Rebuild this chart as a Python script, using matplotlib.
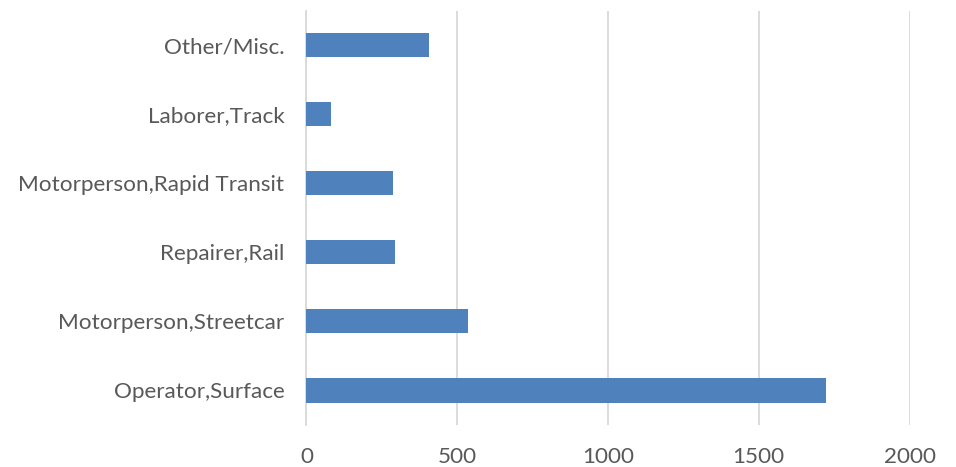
import matplotlib
matplotlib.use('Agg')
import matplotlib.pyplot as plt

# Data
categories = ['Operator,Surface', 'Motorperson,Streetcar', 'Repairer,Rail',
              'Motorperson,Rapid Transit', 'Laborer,Track', 'Other/Misc.']
values = [1724, 537, 293, 287, 82, 407]
xticks = [0, 500, 1000, 1500, 2000]

plt.rcParams['font.family'] = ['Lato', 'DejaVu Sans']

fig = plt.figure(figsize=(9.56, 4.67), dpi=100)
ax = fig.add_axes([0.3206, 0.0899, 0.6308, 0.8876])

ax.barh(categories, values, height=0.35, color='#4f81bd', zorder=3)

ax.set_xlim(0, 2000)
ax.set_ylim(-0.5, len(categories) - 0.5)
ax.set_xticks(xticks)
ax.xaxis.grid(True, color='#d9d9d9', linewidth=1.3, zorder=0)
ax.yaxis.grid(False)
for s in ['top', 'right', 'bottom']:
    ax.spines[s].set_visible(False)
ax.spines['left'].set_color('#d9d9d9')
ax.spines['left'].set_linewidth(1.3)
ax.tick_params(axis='both', length=0, labelsize=16.2, colors='#595959')
ax.tick_params(axis='x', pad=16)
ax.tick_params(axis='y', pad=16)

fig.savefig('out.png', dpi=100, facecolor='white')
